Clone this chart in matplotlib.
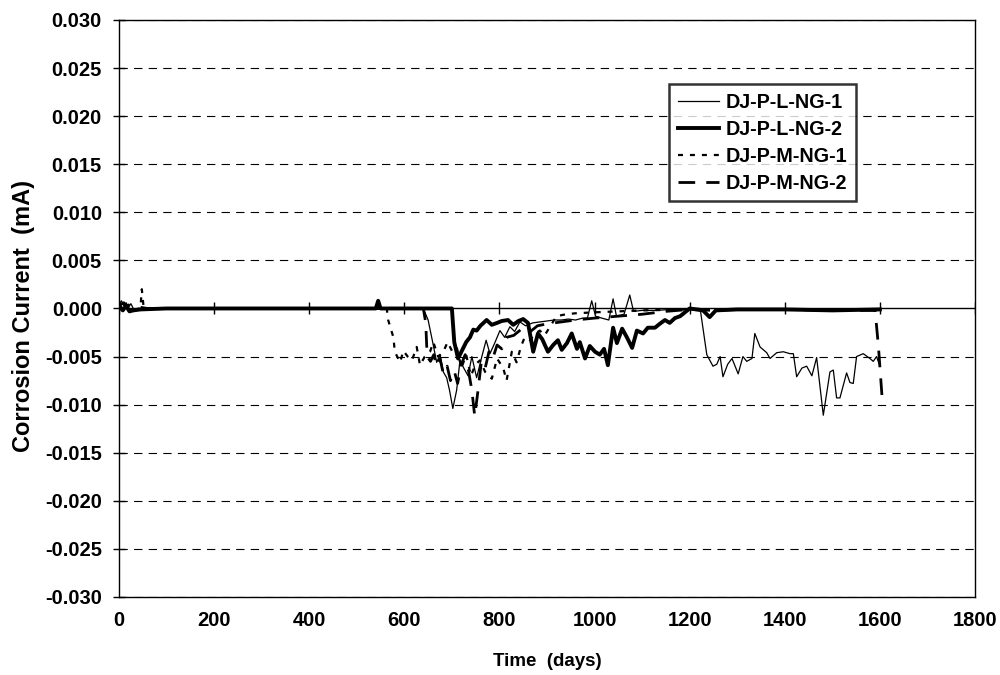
import matplotlib
matplotlib.use('Agg')
import matplotlib.pyplot as plt
import numpy as np

plt.rcParams['font.family'] = ['Liberation Sans', 'DejaVu Sans']
plt.rcParams['font.weight'] = 'bold'
plt.rcParams['lines.scale_dashes'] = False

# DJ-P-L-NG-1 (thin solid)
days_l1 = [0, 5, 10, 15, 20, 25, 30, 40, 60, 100, 200, 300, 400, 500, 600, 640,
           650, 660, 668, 675, 682, 689, 695, 702, 710, 717, 725, 734, 742, 752,
           763, 772, 780, 790, 801, 811, 822, 832, 843, 855, 870, 885, 900, 915,
           930, 945, 960, 975, 985, 994, 1002, 1015, 1030, 1039, 1046, 1062, 1074,
           1082, 1100, 1130, 1160, 1190, 1210, 1222,
           1236, 1249, 1257, 1264, 1270, 1280, 1289, 1302, 1312, 1320, 1331, 1337,
           1348, 1362, 1369, 1383, 1397, 1411, 1418, 1425, 1436, 1446, 1457, 1467,
           1481, 1495, 1502, 1509, 1516, 1530, 1537, 1544, 1551, 1565, 1579, 1586,
           1593, 1600]
curr_l1 = [0.0004, 0.0008, 0.0003, 0.0006, 0.0001, 0.0005, 0.0, -0.0001, 0.0, 0.0, 0.0, 0.0, 0.0, 0.0, 0.0, 0.0,
           -0.0012, -0.0036, -0.0056, -0.0048, -0.0066, -0.0072, -0.0085, -0.0104, -0.0085, -0.0054,
           -0.0062, -0.0070, -0.0050, -0.0072,
           -0.0050, -0.0033, -0.0047, -0.0036, -0.0023, -0.0030, -0.0019, -0.0024, -0.0014, -0.0018,
           -0.0015, -0.0014, -0.0013, -0.0012,
           -0.0012, -0.0011, -0.0012, -0.0010, -0.0010, 0.0008, -0.0008, -0.0010, -0.0012, 0.0010,
           -0.0008, -0.0006, 0.0014,
           -0.0003, -0.0002, -0.0002, -0.0001, -0.0001, 0.0, 0.0,
           -0.0048, -0.0060, -0.0058, -0.0050, -0.0071, -0.0058, -0.0052, -0.0068, -0.0050, -0.0055,
           -0.0052, -0.0026,
           -0.0040, -0.0046, -0.0052, -0.0046, -0.0045, -0.0047, -0.0047, -0.0071, -0.0062, -0.0060,
           -0.0070, -0.0051,
           -0.0111, -0.0066, -0.0064, -0.0093, -0.0093, -0.0067, -0.0077, -0.0078, -0.0050, -0.0047,
           -0.0052, -0.0055,
           -0.0050, -0.0060]

# DJ-P-L-NG-2 (thick solid)
days_l2 = [0, 8, 15, 22, 30, 45, 100, 200, 300, 400, 500, 540, 545, 550, 600, 650, 700,
           705, 713, 720, 730, 738, 745, 752, 760, 773, 784, 795, 805, 818, 829, 840,
           850, 860, 871, 881, 890, 902, 913, 923, 931, 942, 952, 963, 969, 980, 990,
           1001, 1011, 1020, 1028, 1039, 1047, 1058, 1068, 1079, 1089, 1102, 1112, 1127,
           1137, 1148, 1158, 1169, 1180, 1200, 1228, 1242, 1255, 1300, 1400, 1500, 1600]
curr_l2 = [0.0002, -0.0002, 0.0003, -0.0003, -0.0002, -0.0001, 0.0, 0.0, 0.0, 0.0, 0.0, 0.0, 0.0008, 0.0, 0.0, 0.0, 0.0,
           -0.0035, -0.0052, -0.0045, -0.0035, -0.0030, -0.0022, -0.0023, -0.0018, -0.0012, -0.0017,
           -0.0015, -0.0013, -0.0012, -0.0017, -0.0013,
           -0.0011, -0.0015, -0.0045, -0.0026, -0.0032, -0.0045, -0.0038, -0.0033, -0.0043, -0.0036,
           -0.0026, -0.0042, -0.0035, -0.0052, -0.0039,
           -0.0045, -0.0048, -0.0042, -0.0059, -0.0020, -0.0036, -0.0021, -0.0030, -0.0041, -0.0023,
           -0.0026, -0.0020, -0.0020,
           -0.0016, -0.0012, -0.0015, -0.0010, -0.0008, 0.0, -0.0002, -0.0009, -0.0002, -0.0001,
           -0.0001, -0.0002, -0.0001]

# DJ-P-M-NG-1 (short dash)
days_m1 = [0, 10, 20, 30, 45, 48, 52, 70, 100, 200, 300, 400, 500, 563,
           566, 577, 580, 591, 598, 607, 616, 626, 633, 643, 654, 661, 671, 681,
           691, 700, 710, 720, 730, 740, 750, 759, 770, 784, 795, 808, 815, 826,
           836, 845, 853, 864, 875, 885, 895, 905, 920, 940, 960, 1000, 1050,
           1100, 1200, 1300, 1400, 1500, 1600]
curr_m1 = [0.0005, -0.0002, 0.0004, -0.0001, 0.0, 0.002, 0.0, 0.0, 0.0, 0.0, 0.0, 0.0, 0.0, 0.0,
           -0.0012, -0.0030, -0.0045, -0.0056, -0.0044, -0.0050, -0.0054, -0.0040, -0.0059, -0.0050,
           -0.0045, -0.0035, -0.0050, -0.0046,
           -0.0035, -0.0044, -0.0040, -0.0062, -0.0048, -0.0070, -0.0058, -0.0054, -0.0066, -0.0073,
           -0.0052, -0.0062, -0.0075, -0.0045,
           -0.0056, -0.0040, -0.0030, -0.0033, -0.0026, -0.0023, -0.0028, -0.0020, -0.0008, -0.0006,
           -0.0005, -0.0004, -0.0003,
           -0.0002, -0.0001, -0.0001, -0.0001, -0.0002, -0.0001]

# DJ-P-M-NG-2 (long dash)
days_m2 = [0, 10, 20, 35, 60, 100, 200, 300, 400, 500, 600, 640,
           645, 648, 655, 662, 668, 675, 682, 690, 697, 705, 712, 720, 728, 735,
           742, 748, 755, 762, 770, 778, 786, 795, 805, 815, 830, 845, 860, 880,
           900, 930, 960, 1000, 1050, 1100, 1150, 1200, 1250, 1300, 1400, 1500,
           1590, 1597, 1605]
curr_m2 = [0.0003, 0.0006, -0.0002, 0.0002, 0.0, 0.0, 0.0, 0.0, 0.0, 0.0, 0.0, 0.0,
           -0.0015, -0.0050, -0.0055, -0.0048, -0.0060, -0.0052, -0.0068, -0.0060, -0.0075, -0.0065,
           -0.0078, -0.0058, -0.0048, -0.0065,
           -0.0085, -0.0112, -0.0085, -0.0055, -0.0062, -0.0045, -0.0052, -0.0038, -0.0042, -0.0030,
           -0.0028, -0.0022, -0.0026, -0.0018,
           -0.0016, -0.0014, -0.0012, -0.0010, -0.0008, -0.0006, -0.0003, -0.0001, -0.0002, -0.0001,
           -0.0001, -0.0002,
           -0.0002, -0.0040, -0.0095]

x_ticks = np.arange(0, 1801, 200)
y_ticks = np.round(np.arange(-0.030, 0.0301, 0.005), 3)

fig = plt.figure(figsize=(10, 6.75), dpi=100)
ax = fig.add_axes([0.119, 0.1156, 0.856, 0.8548])

# grid lines (dashed) and the zero axis line
for yv in y_ticks:
    if abs(yv) < 1e-9:
        continue
    ax.axhline(yv, color='black', lw=0.8, dashes=(6, 4.5), zorder=1)
ax.axhline(0, color='black', lw=1.0, zorder=2)
ax.plot(x_ticks, np.zeros(len(x_ticks)), ls='none', marker='|', ms=9, mew=1.0,
        color='black', zorder=2)

ax.plot(days_l1, curr_l1, color='black', lw=0.9, label='DJ-P-L-NG-1', zorder=4)
ax.plot(days_l2, curr_l2, color='black', lw=2.8, label='DJ-P-L-NG-2', zorder=4)
ax.plot(days_m1, curr_m1, color='black', lw=1.6, dashes=(3.6, 5.0), label='DJ-P-M-NG-1', zorder=4)
ax.plot(days_m2, curr_m2, color='black', lw=2.0, dashes=(12, 8), label='DJ-P-M-NG-2', zorder=4)

ax.set_xlim(0, 1800)
ax.set_ylim(-0.030, 0.030)
ax.set_xticks(x_ticks)
ax.set_yticks(y_ticks)
ax.set_yticklabels(['%.3f' % v if abs(v) > 1e-9 else '0.000' for v in y_ticks])
ax.tick_params(axis='y', direction='inout', length=8.6, width=1.0, labelsize=14.5, pad=8)
ax.tick_params(axis='x', length=0, labelsize=14.5, pad=10)
for s in ax.spines.values():
    s.set_linewidth(1.0)

ax.set_xlabel('Time  (days)', fontsize=13.5, fontweight='bold', labelpad=17)
ax.set_ylabel('Corrosion Current  (mA)', fontsize=17, fontweight='bold')
ax.yaxis.set_label_coords(-0.098, 0.487)

leg = ax.legend(loc='upper left', bbox_to_anchor=(0.669, 1 - 84 / 675),
                bbox_transform=fig.transFigure, fontsize=14.2, frameon=True,
                fancybox=False, edgecolor='black', handlelength=2.1,
                handletextpad=0.3, borderpad=0.45, labelspacing=0.4,
                borderaxespad=0)
leg.get_frame().set_linewidth(1.8)
for t in leg.get_texts():
    t.set_fontweight('bold')

fig.savefig('out.png', dpi=100)
